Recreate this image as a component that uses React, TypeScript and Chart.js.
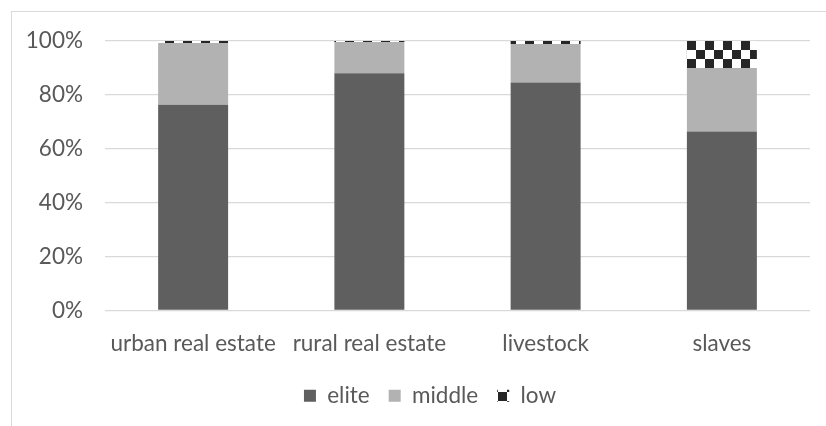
import React, { useEffect, useRef } from "react";
import { Chart, registerables } from "chart.js";

Chart.register(...registerables);

const categories = ["urban real estate", "rural real estate", "livestock", "slaves"];
const seriesNames = ["elite", "middle", "low"];
const elite = [76.3, 88.0, 84.6, 66.4];
const middle = [23.0, 11.6, 14.3, 23.6];
const low = [0.7, 0.4, 1.1, 10.0];
const yTicks = [0, 20, 40, 60, 80, 100];

const FONT = "Lato, 'Open Sans', sans-serif";
const TEXT = "#595959";

function makeChecker(): CanvasPattern | string {
  const c = document.createElement("canvas");
  c.width = 18;
  c.height = 18;
  const g = c.getContext("2d");
  if (!g) return "#262626";
  g.fillStyle = "#ffffff";
  g.fillRect(0, 0, 18, 18);
  g.fillStyle = "#262626";
  g.fillRect(0, 0, 9, 9);
  g.fillRect(9, 9, 9, 9);
  const p = g.createPattern(c, "repeat");
  if (!p) return "#262626";
  try {
    p.setTransform(new DOMMatrix().translate(3, 5));
  } catch (e) {}
  return p;
}

const legendShift = {
  id: "legendShift",
  afterLayout(chart: any) {
    const lg = chart.legend;
    if (lg) {
      lg.left += 50;
    }
  },
};

export default function App() {
  const ref = useRef<HTMLCanvasElement | null>(null);

  useEffect(() => {
    if (!ref.current) return;
    const checker = makeChecker();
    const chart = new Chart(ref.current, {
      type: "bar",
      data: {
        labels: categories,
        datasets: [
          { label: seriesNames[0], data: elite, backgroundColor: "#5f5f5f" },
          { label: seriesNames[1], data: middle, backgroundColor: "#b2b2b2" },
          { label: seriesNames[2], data: low, backgroundColor: checker as any },
        ],
      },
      plugins: [legendShift],
      options: {
        responsive: false,
        animation: false,
        devicePixelRatio: 1,
        layout: { padding: { left: 0, right: 16, top: 41, bottom: 9 } },
        datasets: {
          bar: { categoryPercentage: 1, barPercentage: 0.397, borderWidth: 0 },
        },
        scales: {
          x: {
            stacked: true,
            grid: { display: false, drawTicks: false },
            border: { display: false },
            ticks: {
              color: TEXT,
              font: { family: FONT, size: 22.5 },
              padding: 20,
              maxRotation: 0,
              autoSkip: false,
            },
            afterFit: (s: any) => {
              s.height = 55;
            },
          },
          y: {
            stacked: true,
            min: 0,
            max: 100,
            grid: { color: "#d9d9d9", lineWidth: 1.3, drawTicks: false },
            border: { display: false },
            afterBuildTicks: (s: any) => {
              s.ticks = yTicks.map((v) => ({ value: v }));
            },
            ticks: {
              color: TEXT,
              font: { family: FONT, size: 22.5 },
              padding: 22,
              callback: (v: any) => v + "%",
            },
            afterFit: (s: any) => {
              s.width = 105;
            },
          },
        },
        plugins: {
          tooltip: { enabled: false },
          legend: {
            position: "bottom",
            labels: {
              color: TEXT,
              font: { family: FONT, size: 22.5 },
              boxWidth: 12,
              boxHeight: 12,
              padding: 19,
            },
          },
        },
      },
    });
    return () => chart.destroy();
  }, []);

  return (
    <div
      style={{
        position: "fixed",
        left: 0,
        top: 0,
        width: 826,
        height: 426,
        overflow: "hidden",
        background: "#ffffff",
      }}
    >
      <div
        style={{
          position: "absolute",
          left: 11,
          top: 11,
          width: 900,
          height: 600,
          borderLeft: "1px solid #d9d9d9",
          borderTop: "1px solid #d9d9d9",
        }}
      />
      <canvas
        ref={ref}
        width={826}
        height={426}
        style={{ position: "absolute", left: 0, top: 0, width: 826, height: 426 }}
      />
    </div>
  );
}
